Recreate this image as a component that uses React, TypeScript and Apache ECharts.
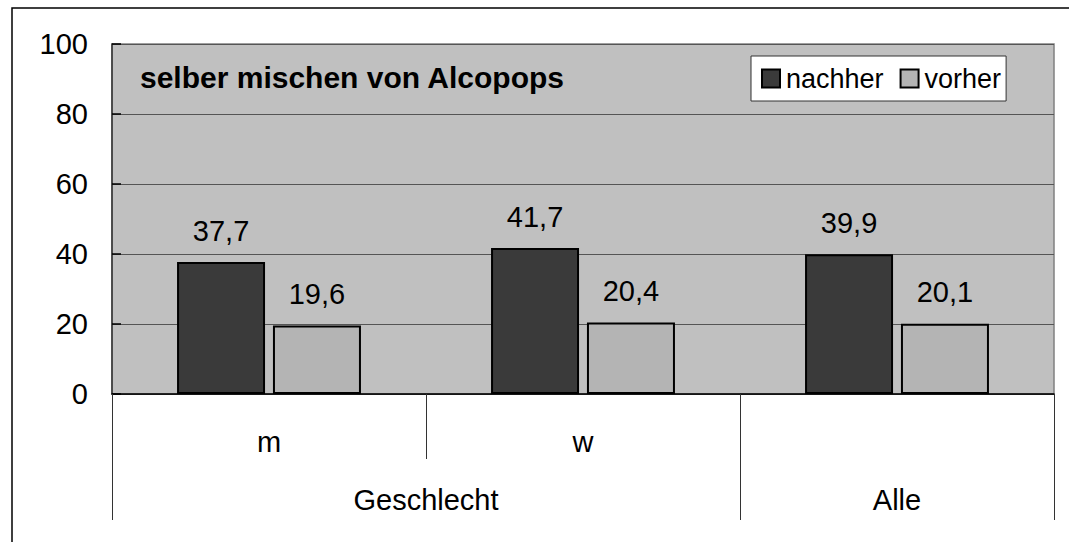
import React, { useEffect, useRef } from "react";
import * as echarts from "echarts";

const subCategories = ["m", "w", ""];
const nachher = [37.7, 41.7, 39.9];
const vorher = [19.6, 20.4, 20.1];
const groupLabels = ["Geschlecht", "Alle"];
const groupLabelPos = [1, 2.5];
const groupBounds = [0, 2, 3];
const titleText = "selber mischen von Alcopops";

const FONT = "'Liberation Sans', Arial, sans-serif";

export default function App() {
  const ref = useRef<HTMLDivElement>(null);
  useEffect(() => {
    if (!ref.current) return;
    const chart = echarts.init(ref.current, undefined, { renderer: "svg" });
    const fmt = (p: any) => String(p.value).replace(".", ",");
    chart.setOption({
      animation: false,
      backgroundColor: "#ffffff",
      textStyle: { fontFamily: FONT },
      title: {
        text: titleText,
        left: 140,
        top: 62,
        padding: 0,
        textStyle: { fontFamily: FONT, fontSize: 30, fontWeight: "bold", color: "#000" },
      },
      legend: {
        left: 751,
        top: 56,
        padding: [9, 5, 9, 10],
        backgroundColor: "#ffffff",
        borderColor: "#333",
        borderWidth: 1,
        itemWidth: 18,
        itemHeight: 18,
        itemGap: 16,
        icon: "rect",
        textStyle: { fontFamily: FONT, fontSize: 27, color: "#000", padding: [0, 0, 0, 1] },
        data: ["nachher", "vorher"],
      },
      graphic: [
        {
          type: "rect",
          shape: { x: 12, y: 8, width: 1200, height: 700 },
          style: { fill: "none", stroke: "#000", lineWidth: 1.5 },
          silent: true,
        },
      ],
      grid: {
        left: 112,
        right: 15,
        top: 44,
        bottom: 148,
        show: true,
        backgroundColor: "#c0c0c0",
        borderColor: "#808080",
        borderWidth: 1.5,
      },
      xAxis: [
        {
          type: "category",
          data: subCategories,
          position: "bottom",
          axisLine: { show: true, lineStyle: { color: "#000", width: 1.5 } },
          axisTick: { show: true, alignWithLabel: false, length: 65, lineStyle: { color: "#333", width: 1 } },
          axisLabel: { margin: 33, fontSize: 29, color: "#000", fontFamily: FONT },
        },
        {
          type: "value",
          min: 0,
          max: 3,
          position: "bottom",
          axisLine: { show: false },
          splitLine: { show: false },
          axisTick: { show: true, customValues: groupBounds, length: 126, lineStyle: { color: "#333", width: 1 } },
          axisLabel: {
            show: true,
            customValues: groupLabelPos,
            margin: 91,
            fontSize: 29,
            color: "#000",
            fontFamily: FONT,
            formatter: (v: number) => groupLabels[groupLabelPos.indexOf(v)] ?? "",
          },
        },
      ],
      yAxis: {
        type: "value",
        min: 0,
        max: 100,
        interval: 20,
        axisLine: { show: true, lineStyle: { color: "#333", width: 1.5 } },
        axisTick: { show: true, inside: true, length: 9, lineStyle: { color: "#000", width: 1.5 } },
        axisLabel: { margin: 24, fontSize: 29, color: "#000", fontFamily: FONT },
        splitLine: { show: true, lineStyle: { color: "#555", width: 1.2 } },
      },
      series: [
        {
          name: "nachher",
          type: "bar",
          data: nachher,
          barWidth: 88,
          barGap: "9%",
          itemStyle: { color: "#3a3a3a", borderColor: "#000", borderWidth: 2 },
          label: { show: true, position: "top", distance: 17, fontSize: 29, color: "#000", fontFamily: FONT, formatter: fmt },
        },
        {
          name: "vorher",
          type: "bar",
          data: vorher,
          barWidth: 88,
          barGap: "9%",
          itemStyle: { color: "#b4b4b4", borderColor: "#000", borderWidth: 2 },
          label: { show: true, position: "top", distance: 17, fontSize: 29, color: "#000", fontFamily: FONT, formatter: fmt },
        },
      ],
    });
    return () => chart.dispose();
  }, []);
  return (
    <div
      ref={ref}
      style={{ position: "fixed", left: 0, top: 0, width: 1069, height: 542 }}
    />
  );
}
